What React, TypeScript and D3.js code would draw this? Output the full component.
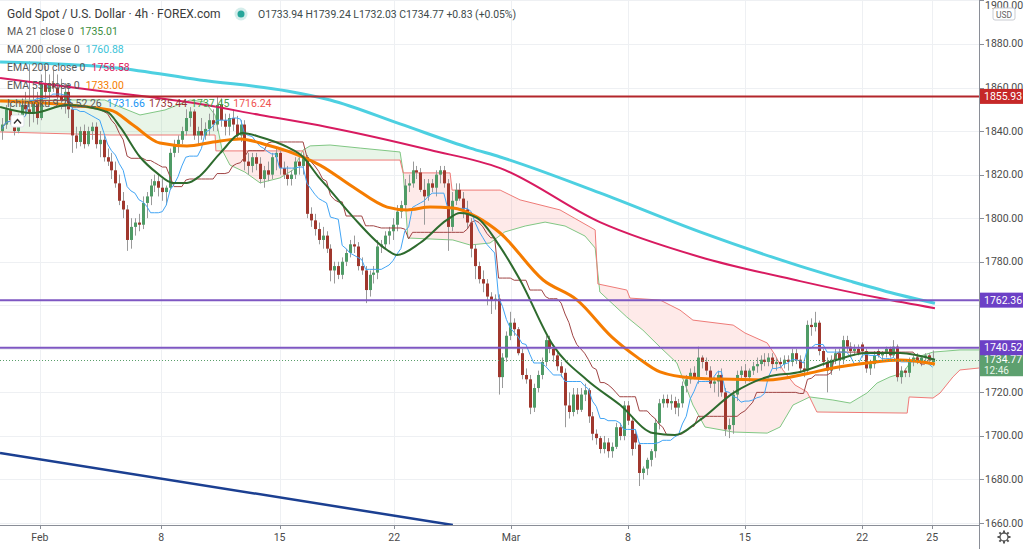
import React from "react";
import * as d3 from "d3";

// ---------- DATA (4h candles, Jan 28 – Mar 25) ----------
const opens = [
  1840,1843,1850,1845,1840,1846,1852,1850,1848,1853,
  1846,1862,1858,1862,1860,1856,1854,1858,1850,1838,
  1835,1840,1834,1840,1842,1834,1836,1828,1826,1822,
  1816,1808,1804,1790,1796,1798,1797,1807,1810,1815,
  1817,1814,1812,1814,1830,1834,1836,1840,1846,1849,
  1838,1840,1838,1841,1845,1843,1852,1845,1842,1846,
  1843,1838,1843,1826,1824,1828,1825,1818,1822,1820,
  1828,1830,1823,1820,1818,1820,1826,1824,1828,1802,
  1799,1795,1790,1792,1786,1776,1778,1774,1780,1784,
  1788,1787,1778,1776,1767,1774,1775,1787,1788,1792,
  1794,1797,1803,1806,1815,1816,1822,1821,1813,1810,
  1816,1814,1820,1822,1816,1796,1808,1813,1809,1804,
  1798,1786,1778,1772,1770,1764,1762,1763,1727,1736,
  1746,1752,1749,1738,1728,1726,1713,1722,1728,1734,
  1744,1740,1737,1732,1729,1714,1711,1719,1712,1719,
  1721,1709,1701,1699,1694,1697,1693,1695,1704,1700,
  1714,1707,1701,1696,1683,1685,1689,1693,1706,1715,
  1717,1715,1716,1713,1715,1723,1726,1729,1727,1736,
  1734,1730,1724,1725,1728,1720,1703,1705,1719,1728,
  1730,1727,1730,1732,1733,1735,1734,1736,1733,1734,
  1733,1735,1734,1738,1735,1731,1730,1751,1750,1752,
  1739,1734,1730,1735,1738,1735,1744,1741,1739,1740,
  1742,1739,1731,1733,1739,1737,1738,1740,1737,1741,
  1727,1730,1729,1734,1736,1734,1736,1737,1733.94,
];
const highs = [
  1846,1852,1853,1847,1848,1855,1858,1872,1860,1858,
  1866,1870,1866,1868,1866,1864,1862,1862,1853,1842,
  1842,1843,1842,1844,1844,1840,1838,1832,1830,1826,
  1820,1812,1806,1800,1800,1802,1810,1812,1818,1820,
  1820,1818,1815,1832,1836,1838,1842,1850,1851,1850,
  1842,1846,1844,1848,1850,1856,1855,1848,1848,1850,
  1847,1845,1845,1830,1830,1830,1828,1824,1826,1830,
  1832,1831,1826,1824,1822,1828,1828,1830,1829,1805,
  1802,1798,1796,1794,1788,1780,1780,1782,1786,1790,
  1792,1789,1782,1778,1776,1778,1790,1790,1794,1796,
  1800,1806,1808,1818,1820,1826,1824,1823,1818,1818,
  1818,1822,1824,1824,1818,1812,1816,1816,1812,1808,
  1800,1788,1780,1776,1772,1766,1765,1765,1738,1748,
  1757,1754,1750,1740,1731,1728,1724,1730,1736,1746,
  1746,1742,1739,1734,1731,1720,1722,1722,1722,1724,
  1722,1711,1703,1700,1700,1699,1697,1706,1706,1716,
  1716,1709,1703,1697,1686,1690,1694,1708,1717,1719,
  1719,1719,1718,1717,1725,1728,1731,1732,1741,1737,
  1736,1732,1727,1730,1731,1722,1708,1721,1730,1732,
  1733,1731,1734,1736,1737,1738,1738,1738,1736,1736,
  1737,1737,1740,1740,1737,1734,1753,1754,1757,1753,
  1740,1736,1737,1740,1740,1746,1746,1743,1742,1742,
  1743,1740,1735,1739,1740,1739,1741,1741,1744,1742,
  1732,1731,1736,1737,1738,1737,1738,1738,1739.24,
];
const lows = [
  1836,1841,1843,1838,1839,1844,1848,1842,1844,1843,
  1845,1855,1852,1858,1852,1850,1848,1846,1830,1832,
  1833,1832,1833,1836,1832,1828,1826,1824,1818,1814,
  1806,1800,1785,1786,1792,1794,1795,1800,1806,1812,
  1810,1808,1806,1813,1828,1830,1834,1838,1842,1836,
  1834,1836,1836,1838,1840,1840,1842,1838,1838,1840,
  1836,1835,1822,1820,1821,1822,1816,1814,1817,1818,
  1822,1820,1818,1815,1815,1818,1820,1820,1800,1796,
  1792,1788,1786,1784,1771,1770,1772,1772,1778,1782,
  1784,1776,1774,1761,1764,1770,1772,1784,1786,1788,
  1790,1794,1800,1804,1812,1814,1818,1812,1797,1808,
  1812,1810,1816,1814,1785,1794,1806,1808,1800,1795,
  1782,1772,1770,1766,1760,1756,1758,1719,1722,1734,
  1744,1746,1737,1726,1724,1710,1711,1720,1726,1732,
  1738,1734,1730,1727,1704,1708,1709,1710,1711,1716,
  1706,1698,1696,1692,1692,1690,1690,1694,1698,1698,
  1705,1691,1694,1677,1680,1682,1686,1690,1703,1713,
  1713,1712,1710,1709,1713,1720,1724,1726,1724,1731,
  1728,1722,1720,1718,1718,1700,1699,1701,1716,1726,
  1724,1725,1728,1729,1730,1732,1732,1731,1730,1731,
  1731,1730,1732,1733,1729,1727,1728,1746,1748,1737,
  1732,1720,1728,1733,1730,1733,1739,1736,1737,1737,
  1736,1729,1728,1731,1736,1735,1736,1736,1736,1725,
  1724,1727,1727,1732,1733,1732,1734,1734,1732.03,
];
const closes = [
  1843,1850,1845,1840,1846,1852,1850,1848,1853,1846,
  1862,1858,1862,1860,1856,1854,1858,1850,1838,1835,
  1840,1834,1840,1842,1834,1836,1828,1826,1822,1816,
  1808,1804,1790,1796,1798,1797,1807,1810,1815,1817,
  1814,1812,1814,1830,1834,1836,1840,1846,1849,1838,
  1840,1838,1841,1845,1843,1852,1845,1842,1846,1843,
  1838,1843,1826,1824,1828,1825,1818,1822,1820,1828,
  1830,1823,1820,1818,1820,1826,1824,1828,1802,1799,
  1795,1790,1792,1786,1776,1778,1774,1780,1784,1788,
  1787,1778,1776,1767,1774,1775,1787,1788,1792,1794,
  1797,1803,1806,1815,1816,1822,1821,1813,1810,1816,
  1814,1820,1822,1816,1796,1808,1813,1809,1804,1798,
  1786,1778,1772,1770,1764,1762,1763,1727,1736,1746,
  1752,1749,1738,1728,1726,1713,1722,1728,1734,1744,
  1740,1737,1732,1729,1714,1711,1719,1712,1719,1721,
  1709,1701,1699,1694,1697,1693,1695,1704,1700,1714,
  1707,1694,1697,1683,1685,1689,1693,1706,1715,1717,
  1715,1716,1713,1715,1723,1726,1729,1727,1736,1734,
  1730,1724,1725,1728,1720,1703,1705,1719,1728,1730,
  1727,1730,1732,1733,1735,1734,1736,1733,1734,1733,
  1735,1734,1738,1735,1731,1730,1751,1750,1752,1739,
  1734,1730,1735,1738,1735,1744,1741,1739,1740,1738,
  1739,1731,1733,1737,1737,1738,1740,1737,1741,1727,
  1730,1729,1734,1736,1734,1736,1737,1735,1734.77,
];

// Moving averages: [bar index, price]
const ma21: [number, number][] = [
  [-0.5,1851.1],[7.9,1848.3],[16.6,1852.0],[26.9,1848.8],[30.2,1841.9],[35.3,1828.1],
  [39.6,1820.8],[43.7,1816.2],[47.3,1816.2],[50.6,1819.4],[55.8,1829.9],[61.6,1839.1],
  [66.0,1837.3],[72.9,1832.7],[77.0,1828.1],[80.6,1819.8],[83.9,1812.9],[89.8,1800.5],
  [98.5,1785.4],[101.0,1783.1],[106.9,1788.6],[113.8,1799.2],[117.1,1802.4],[121.5,1800.1],
  [127.4,1786.8],[132.5,1771.6],[140.9,1741.7],[149.6,1725.7],[158.1,1714.2],[166.5,1701.3],
  [172.1,1700.4],[178.5,1707.3],[187.0,1719.7],[195.7,1727.1],[204.1,1729.4],[212.5,1734.4],
  [221.2,1738.1],[229.7,1738.1],[238.6,1735.0],
];
const ma200: [number, number][] = [
  [-0.5,1871.7],[29.4,1869.0],[50.6,1863.5],[72.9,1858.4],[83.9,1854.3],[101.8,1843.3],
  [119.7,1832.2],[127.4,1828.1],[152.9,1811.6],[178.5,1793.7],[204.1,1778.0],[216.9,1771.1],
  [229.7,1764.7],[238.6,1760.9],
];
const ema200: [number, number][] = [
  [-0.5,1864.4],[25.1,1858.4],[50.6,1852.4],[66.0,1847.4],[83.1,1841.9],[109.5,1831.3],
  [127.4,1823.0],[152.9,1798.2],[178.5,1782.2],[204.1,1771.1],[224.5,1763.3],[238.6,1758.6],
];
const ema55: [number, number][] = [
  [-0.5,1853.8],[27.6,1849.7],[33.5,1842.8],[40.4,1834.5],[47.3,1833.2],[54.0,1835.0],
  [60.9,1836.4],[67.8,1833.6],[74.4,1829.9],[81.3,1824.4],[89.8,1814.3],[98.5,1805.1],
  [103.6,1803.8],[109.5,1805.1],[115.3,1804.7],[121.5,1800.5],[127.4,1793.2],[138.4,1771.6],
  [147.1,1762.4],[156.0,1745.4],[162.4,1736.2],[168.3,1729.4],[176.7,1726.6],[183.6,1726.1],
  [195.7,1725.7],[206.6,1728.9],[212.5,1731.2],[221.2,1733.5],[229.7,1734.9],[238.6,1733.0],
];
// Ichimoku leading spans (shifted 26 bars ahead)
const spanA: [number, number][] = [
  [-0.5,1854.3],[26.3,1854.3],[28.9,1852.0],[35.3,1847.4],[41.7,1849.7],[48.1,1854.3],
  [51.9,1853.4],[54.5,1847.4],[56.3,1831.3],[58.3,1824.4],[62.1,1821.2],[66.0,1816.2],
  [71.1,1818.5],[74.4,1822.1],[77.0,1831.3],[78.8,1833.2],[83.9,1833.6],[91.6,1832.2],
  [101.8,1830.4],[102.6,1821.2],[103.8,1790.9],[115.3,1790.0],[119.7,1787.7],[124.8,1788.6],
  [128.6,1793.7],[133.8,1796.4],[138.9,1798.2],[144.0,1796.4],[149.1,1791.8],[151.7,1786.3],
  [152.9,1766.1],[159.8,1754.6],[163.9,1748.6],[168.3,1740.8],[172.6,1733.5],[176.7,1714.2],
  [179.8,1704.1],[187.0,1701.8],[195.7,1701.3],[199.0,1704.1],[202.3,1714.2],[206.6,1717.9],
  [212.5,1716.5],[216.9,1715.1],[221.2,1719.7],[223.8,1724.3],[227.1,1727.1],[230.4,1728.9],
  [232.2,1733.5],[234.0,1736.2],[238.1,1738.5],[245.0,1739.5],[264.5,1739.5],
];
const spanB: [number, number][] = [
  [-0.5,1839.6],[27.6,1838.2],[54.5,1838.2],[54.7,1830.9],[77.0,1830.9],[77.5,1826.7],
  [101.8,1826.7],[102.6,1820.8],[114.6,1820.8],[115.1,1812.9],[127.4,1812.9],[132.5,1808.4],
  [142.7,1803.8],[151.7,1794.6],[152.4,1769.8],[159.8,1767.0],[160.6,1763.3],[168.3,1762.4],
  [173.4,1757.8],[176.7,1753.2],[187.0,1750.9],[190.0,1747.3],[195.7,1742.7],[197.7,1737.2],
  [199.7,1730.3],[202.8,1723.4],[205.9,1720.2],[208.4,1711.0],[231.5,1710.5],[232.0,1717.9],
  [238.1,1717.4],[239.9,1719.7],[243.2,1727.1],[245.0,1730.3],[249.9,1731.2],[264.5,1731.2],
];
const trendLine: [number, number][] = [[-0.5,1692.2],[115.3,1659.1]];

const priceTicks = [1660,1680,1700,1720,1740,1760,1780,1800,1820,1840,1860,1880,1900];
const timeTicks: { label: string; bar: number }[] = [
  { label: "Feb", bar: 9.7 }, { label: "8", bar: 40.7 }, { label: "15", bar: 71 },
  { label: "22", bar: 100.3 }, { label: "Mar", bar: 130.2 }, { label: "8", bar: 160.1 },
  { label: "15", bar: 190 }, { label: "22", bar: 220 }, { label: "25", bar: 237.9 },
];
const levels = [
  { price: 1855.93, line: "#b3262b", box: "#c62828" },
  { price: 1762.36, line: "#7e57c2", box: "#6c40c6" },
  { price: 1740.52, line: "#7e57c2", box: "#6c40c6" },
];
const lastPrice = 1734.77;
const countdown = "12:46";

// ---------- LAYOUT ----------
const W = 1024, H = 549, PR = 979, PB = 525;
const FONT = "Roboto, 'Liberation Sans', sans-serif";

export default function App() {
  const x = d3.scaleLinear().domain([0, 238]).range([2, 932.6]);
  const y = d3.scaleLinear().domain([1659.1, 1900.2]).range([PB, 0]);

  const upC = "#4f9b66", dnC = "#a0372d", wickC = "#9a9a9a";

  const lineGen = (curve: any) =>
    d3.line<[number, number]>().x((d) => x(d[0])).y((d) => y(d[1])).curve(curve);
  const smooth = lineGen(d3.curveMonotoneX);
  const straight = lineGen(d3.curveLinear);

  // Ichimoku tenkan / kijun computed from candles
  const midline = (n: number): [number, number][] =>
    closes.map((_, i) => {
      const s = Math.max(0, i - n + 1);
      const hi = d3.max(highs.slice(s, i + 1)) as number;
      const lo = d3.min(lows.slice(s, i + 1)) as number;
      return [i, (hi + lo) / 2];
    });
  const tenkan = midline(9);
  const kijun = midline(26);

  // cloud
  const fa = d3.scaleLinear().domain(spanA.map((d) => d[0])).range(spanA.map((d) => d[1])).clamp(true);
  const fb = d3.scaleLinear().domain(spanB.map((d) => d[0])).range(spanB.map((d) => d[1])).clamp(true);
  const samp = d3.range(-0.5, 264.6, 0.25);
  const cloud = d3.area<number>().x((b) => x(b)).y0((b) => y(fb(b))).y1((b) => y(fa(b)));
  const aboveB = d3.area<number>().x((b) => x(b)).y0(0).y1((b) => y(fb(b)));
  const belowB = d3.area<number>().x((b) => x(b)).y0(PB).y1((b) => y(fb(b)));
  const cloudD = cloud(samp) || "";

  const snap = (v: number) => Math.round(v) + 0.5;

  // axis labels hidden behind the price-label boxes
  const boxPrices = [...levels.map((l) => l.price), lastPrice];
  const axisLabels = priceTicks.filter(
    (p) => !boxPrices.some((b) => Math.abs(y(p) - y(b)) < 7)
  );

  const gear = () => {
    const cx = 1004, cy = 537, teeth = [];
    for (let k = 0; k < 8; k++) {
      const a = (k * Math.PI) / 4;
      teeth.push(
        <line key={k} x1={cx + Math.cos(a) * 4} y1={cy + Math.sin(a) * 4}
          x2={cx + Math.cos(a) * 6.5} y2={cy + Math.sin(a) * 6.5}
          stroke="#555" strokeWidth={2} />
      );
    }
    return (
      <g>
        {teeth}
        <circle cx={cx} cy={cy} r={4} fill="#fff" stroke="#555" strokeWidth={1.3} />
      </g>
    );
  };

  return (
    <svg width={W} height={H} style={{ position: "absolute", left: 0, top: 0, background: "#fff" }}
      fontFamily={FONT}>
      <defs>
        <clipPath id="pane"><rect x={0} y={0} width={PR} height={PB} /></clipPath>
        <clipPath id="aboveB"><path d={aboveB(samp) || ""} /></clipPath>
        <clipPath id="belowB"><path d={belowB(samp) || ""} /></clipPath>
        <clipPath id="axisTop"><rect x={PR + 1} y={0} width={W - PR} height={PB} /></clipPath>
      </defs>
      <rect width={W} height={H} fill="#fff" />

      {/* grid */}
      <g stroke="#eef0f3" strokeWidth={1}>
        {priceTicks.map((p) => (
          <line key={p} x1={0} x2={PR} y1={snap(y(p))} y2={snap(y(p))} />
        ))}
        {timeTicks.map((t, i) => (
          <line key={i} x1={snap(x(t.bar))} x2={snap(x(t.bar))} y1={0} y2={PB} />
        ))}
      </g>

      <g clipPath="url(#pane)">
        {/* cloud */}
        <path d={cloudD} fill="rgba(76,175,80,0.13)" clipPath="url(#aboveB)" />
        <path d={cloudD} fill="rgba(244,67,54,0.11)" clipPath="url(#belowB)" />
        <path d={straight(spanA) || ""} fill="none" stroke="#81c784" strokeWidth={1} />
        <path d={straight(spanB) || ""} fill="none" stroke="#ef7b78" strokeWidth={1} />

        {/* candles */}
        {closes.map((c, i) => {
          const o = opens[i];
          const up = c >= o;
          const cx = Math.round(x(i));
          const yt = y(Math.max(o, c));
          const yb = y(Math.min(o, c));
          return (
            <g key={i}>
              <line x1={cx + 0.5} x2={cx + 0.5} y1={y(highs[i])} y2={y(lows[i])} stroke={wickC} strokeWidth={1} />
              <rect x={cx - 1} y={yt} width={3} height={Math.max(1, yb - yt)} fill={up ? upC : dnC} />
            </g>
          );
        })}

        {/* ichimoku base/conversion */}
        <path d={straight(kijun) || ""} fill="none" stroke="#a04545" strokeWidth={1} />
        <path d={straight(tenkan) || ""} fill="none" stroke="#42a5f5" strokeWidth={1} />

        {/* moving averages */}
        <path d={smooth(ema200) || ""} fill="none" stroke="#d81b60" strokeWidth={2} />
        <path d={smooth(ma200) || ""} fill="none" stroke="#4dd0e1" strokeWidth={3} />
        <path d={smooth(ema55) || ""} fill="none" stroke="#f57c00" strokeWidth={3} />
        <path d={smooth(ma21) || ""} fill="none" stroke="#2e6b2e" strokeWidth={2} />

        {/* last price dotted line */}
        <line x1={0} x2={PR} y1={snap(y(lastPrice))} y2={snap(y(lastPrice))}
          stroke="#5a9e6b" strokeWidth={1} strokeDasharray="1 2" />

        {/* horizontal levels */}
        {levels.map((l, i) => (
          <line key={i} x1={0} x2={PR} y1={y(l.price)} y2={y(l.price)} stroke={l.line} strokeWidth={2} />
        ))}

        {/* trend line */}
        <path d={straight(trendLine) || ""} fill="none" stroke="#1b3f91" strokeWidth={2.5} />
      </g>

      {/* axes frame */}
      <line x1={PR + 0.5} x2={PR + 0.5} y1={0} y2={H} stroke="#8a8e97" strokeWidth={1} />
      <line x1={0} x2={PR} y1={PB + 0.5} y2={PB + 0.5} stroke="#8a8e97" strokeWidth={1} />

      {/* price axis */}
      <g fontSize={10.5} fill="#4a4a4a">
        {priceTicks.map((p) => (
          <line key={p} x1={PR + 1} x2={PR + 5} y1={snap(y(p))} y2={snap(y(p))} stroke="#8a8e97" />
        ))}
        {axisLabels.map((p) => (
          <text key={p} x={985} y={Math.max(y(p), 5)} dominantBaseline="central">{p.toFixed(2)}</text>
        ))}
      </g>
      <rect x={993} y={8} width={22} height={12} rx={2} fill="#fff" stroke="#c9ccd2" />
      <text x={1004} y={14.5} fontSize={8.5} fill="#666" textAnchor="middle" dominantBaseline="central">USD</text>

      {/* last price label */}
      <rect x={980} y={y(lastPrice) - 9} width={43} height={25} fill="#5da06f" />
      <text x={984} y={y(lastPrice) - 1} fontSize={10.5} fill="#fff" dominantBaseline="central">{lastPrice.toFixed(2)}</text>
      <text x={984} y={y(lastPrice) + 10} fontSize={10} fill="#e8f5e9" dominantBaseline="central">{countdown}</text>

      {levels.map((l, i) => (
        <g key={i}>
          <rect x={980} y={y(l.price) - 7.5} width={43} height={15} fill={l.box} />
          <text x={984} y={y(l.price)} fontSize={10.5} fill="#fff" dominantBaseline="central">{l.price.toFixed(2)}</text>
        </g>
      ))}

      {/* time axis */}
      <g fontSize={10.5} fill="#4a4a4a">
        {timeTicks.map((t, i) => (
          <g key={i}>
            <line x1={snap(x(t.bar))} x2={snap(x(t.bar))} y1={PB + 1} y2={PB + 4} stroke="#8a8e97" />
            <text x={x(t.bar)} y={537} textAnchor="middle" dominantBaseline="central">{t.label}</text>
          </g>
        ))}
      </g>
      {gear()}

      {/* legend */}
      <g>
        <text x={7} y={18} fontSize={12} fill="#3a3a3a">Gold Spot / U.S. Dollar · 4h · FOREX.com</text>
        <circle cx={241} cy={14} r={6.5} fill="rgba(38,166,154,0.2)" />
        <circle cx={241} cy={14} r={3.5} fill="#26a69a" />
        <text x={258} y={18} fontSize={10.4} fill="#3d4a4a">
          O{opens[opens.length - 1].toFixed(2)} H{highs[highs.length - 1].toFixed(2)} L{lows[lows.length - 1].toFixed(2)} C{lastPrice.toFixed(2)} +0.83 (+0.05%)
        </text>
        <g fontSize={10.5} fill="#5a5a5a">
          <text x={7} y={35}>MA 21 close 0<tspan dx={6} fill="#3c8c3c">1735.01</tspan></text>
          <text x={7} y={53}>MA 200 close 0<tspan dx={6} fill="#3cc3d8">1760.88</tspan></text>
          <text x={7} y={71}>EMA 200 close 0<tspan dx={6} fill="#e0245e">1758.58</tspan></text>
          <text x={7} y={89}>EMA 55 close 0<tspan dx={6} fill="#f57c00">1733.00</tspan></text>
          <text x={7} y={107}>Ichimoku 9 26 52 26
            <tspan dx={5} fill="#2196f3">1731.66</tspan>
            <tspan dx={4} fill="#993333">1735.44</tspan>
            <tspan dx={4} fill="#43a047">1737.45</tspan>
            <tspan dx={4} fill="#ef5350">1716.24</tspan>
          </text>
        </g>
        <rect x={11} y={115} width={13} height={12} rx={2} fill="#fff" stroke="#e0e3eb" />
        <polyline points="14,123.5 17.5,119.5 21,123.5" fill="none" stroke="#333" strokeWidth={1.4} />
      </g>
    </svg>
  );
}
